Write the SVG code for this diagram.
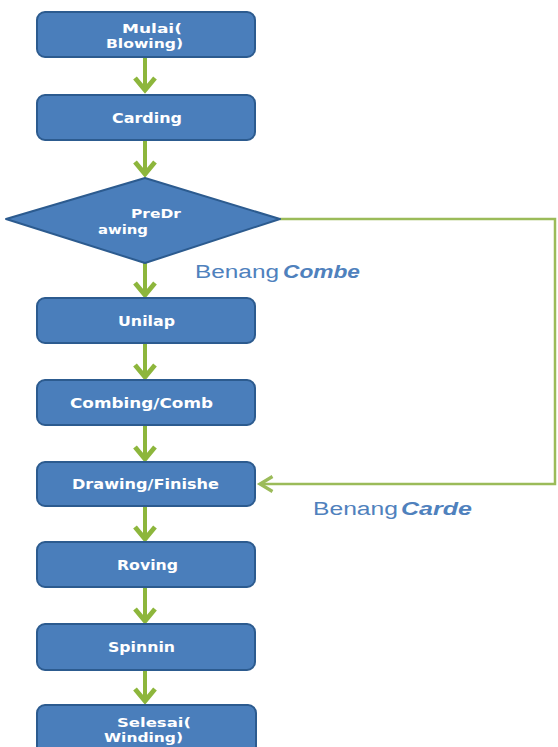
<svg xmlns="http://www.w3.org/2000/svg" width="558" height="747" viewBox="0 0 558 747">
<style>
.box{fill:#4A7EBB;stroke:#2C5B8F;stroke-width:2}
.t{font-family:"DejaVu Sans","Liberation Sans",Arial,sans-serif;font-weight:bold;font-size:14px;fill:#FFFFFF}
.t2{font-size:13px}
.c{stroke:#8DB63C;stroke-width:4;fill:none}
.fb{stroke:#9BBB59;stroke-width:2.5;fill:none}
.lbl{font-family:"Liberation Sans",Arial,sans-serif;font-size:18px;fill:#4F81BD}
.it{font-style:italic;font-weight:bold}
</style>
<defs>
<marker id="ah" markerWidth="6" markerHeight="6" refX="4" refY="3" orient="auto" markerUnits="strokeWidth">
<path d="M1,0.5 L4,3 L1,5.5" fill="none" stroke="#8DB63C" stroke-width="1.2"/>
</marker>
<marker id="ahf" markerWidth="8" markerHeight="8" refX="6" refY="4" orient="auto" markerUnits="strokeWidth">
<path d="M1,1 L6,4 L1,7" fill="none" stroke="#9BBB59" stroke-width="1.3"/>
</marker>
</defs>
<g id="connectors">
<line class="c" x1="145" y1="58" x2="145" y2="90" marker-end="url(#ah)"/>
<line class="c" x1="145" y1="141" x2="145" y2="174" marker-end="url(#ah)"/>
<line class="c" x1="145" y1="263" x2="145" y2="295" marker-end="url(#ah)"/>
<line class="c" x1="145" y1="344" x2="145" y2="377" marker-end="url(#ah)"/>
<line class="c" x1="145" y1="426" x2="145" y2="459" marker-end="url(#ah)"/>
<line class="c" x1="145" y1="507" x2="145" y2="539" marker-end="url(#ah)"/>
<line class="c" x1="145" y1="588" x2="145" y2="621" marker-end="url(#ah)"/>
<line class="c" x1="145" y1="671" x2="145" y2="701" marker-end="url(#ah)"/>
<polyline class="fb" points="280,219 555,219 555,484 260,484" marker-end="url(#ahf)"/>
<text class="lbl" x="195" y="278" textLength="84" lengthAdjust="spacingAndGlyphs">Benang</text>
<text class="lbl it" x="283" y="278" textLength="77" lengthAdjust="spacingAndGlyphs">Combe</text>
<text class="lbl" x="313" y="515" textLength="85" lengthAdjust="spacingAndGlyphs">Benang</text>
<text class="lbl it" x="401" y="515" textLength="71" lengthAdjust="spacingAndGlyphs">Carde</text>
</g>
<g id="n1"><rect class="box" x="37" y="12" width="218" height="45" rx="8"/><text class="t t2" x="122" y="33" textLength="60" lengthAdjust="spacingAndGlyphs">Mulai(</text><text class="t t2" x="106" y="48" textLength="77" lengthAdjust="spacingAndGlyphs">Blowing)</text></g>
<g id="n2"><rect class="box" x="37" y="95" width="218" height="45" rx="8"/><text class="t" x="112" y="123" textLength="70" lengthAdjust="spacingAndGlyphs">Carding</text></g>
<g id="n3"><polygon class="box" points="145,178 280,219 145,263 6,219" stroke-linejoin="round"/><text class="t t2" x="131" y="218" textLength="50" lengthAdjust="spacingAndGlyphs">PreDr</text><text class="t t2" x="98" y="234" textLength="50" lengthAdjust="spacingAndGlyphs">awing</text></g>
<g id="n4"><rect class="box" x="37" y="298" width="218" height="45" rx="8"/><text class="t" x="118" y="326" textLength="57" lengthAdjust="spacingAndGlyphs">Unilap</text></g>
<g id="n5"><rect class="box" x="37" y="380" width="218" height="45" rx="8"/><text class="t" x="70" y="408" textLength="143" lengthAdjust="spacingAndGlyphs">Combing/Comb</text></g>
<g id="n6"><rect class="box" x="37" y="462" width="218" height="44" rx="8"/><text class="t" x="72" y="489" textLength="147" lengthAdjust="spacingAndGlyphs">Drawing/Finishe</text></g>
<g id="n7"><rect class="box" x="37" y="542" width="218" height="45" rx="8"/><text class="t" x="117" y="570" textLength="61" lengthAdjust="spacingAndGlyphs">Roving</text></g>
<g id="n8"><rect class="box" x="37" y="624" width="218" height="46" rx="8"/><text class="t" x="108" y="652" textLength="67" lengthAdjust="spacingAndGlyphs">Spinnin</text></g>
<g id="n9"><rect class="box" x="37" y="705" width="219" height="50" rx="8"/><text class="t t2" x="117" y="727" textLength="74" lengthAdjust="spacingAndGlyphs">Selesai(</text><text class="t t2" x="104" y="742" textLength="79" lengthAdjust="spacingAndGlyphs">Winding)</text></g>
</svg>
